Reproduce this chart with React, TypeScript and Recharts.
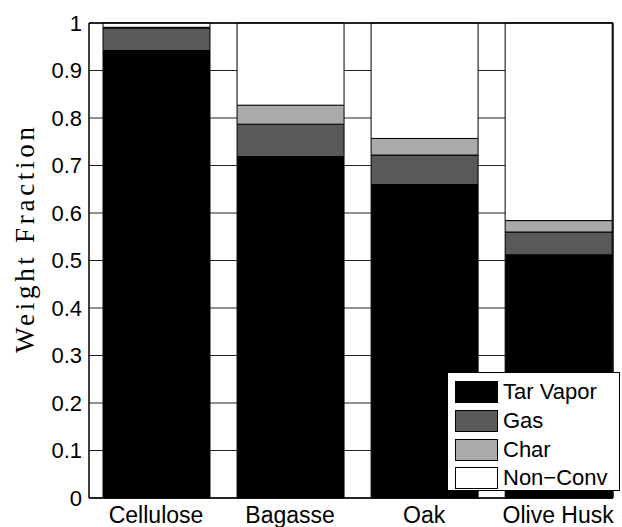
import React from 'react';
import {
  BarChart,
  Bar,
  XAxis,
  YAxis,
  CartesianGrid,
  ReferenceLine,
} from 'recharts';

// feedstocks along the x axis
const feedstocks = ['Cellulose', 'Bagasse', 'Oak', 'Olive Husk'];

// stacked weight fractions per feedstock
const tarVapor = [0.942, 0.719, 0.66, 0.512];
const gas = [0.047, 0.068, 0.062, 0.048];
const charFrac = [0.002, 0.04, 0.035, 0.024];
const nonConv = [0.009, 0.173, 0.243, 0.416];

const yTicks = [0, 0.1, 0.2, 0.3, 0.4, 0.5, 0.6, 0.7, 0.8, 0.9, 1];

const series = [
  { key: 'tar', name: 'Tar Vapor', fill: '#000000' },
  { key: 'gas', name: 'Gas', fill: '#595959' },
  { key: 'char', name: 'Char', fill: '#aaaaaa' },
  { key: 'nonconv', name: 'Non\u2212Conv', fill: '#ffffff' },
];

const chartData = feedstocks.map((name, i) => ({
  pos: i + 1,
  name,
  tar: tarVapor[i],
  gas: gas[i],
  char: charFrac[i],
  nonconv: nonConv[i],
}));

const FONT = '"Liberation Sans", Arial, Helvetica, sans-serif';
const X_MAX = 4.409;

// legend drawn as a plain box over the plot, like matlab's
function LegendBox() {
  return (
    <div
      style={{
        position: 'absolute',
        left: 447,
        top: 372,
        background: '#fff',
        border: '1px solid #000',
        width: 173,
        height: 119,
        boxSizing: 'border-box',
        padding: '5px 0 0 7px',
        fontFamily: FONT,
        fontSize: 22,
        color: '#000',
      }}
    >
      {series.map((s) => (
        <div key={s.key} style={{ display: 'flex', alignItems: 'center', height: 28.7 }}>
          <div
            style={{
              width: 43,
              height: 22,
              background: s.fill,
              border: '1px solid #000',
              boxSizing: 'border-box',
              marginRight: 5,
            }}
          />
          <span style={{ lineHeight: '22px' }}>{s.name}</span>
        </div>
      ))}
    </div>
  );
}

function YLabel() {
  return (
    <text
      x={0}
      y={0}
      transform="translate(34,240) rotate(-90)"
      textAnchor="middle"
      fontFamily='"Liberation Serif", "Times New Roman", serif'
      fontSize={27}
      fill="#000"
      textLength={226}
      lengthAdjust="spacing"
    >
      Weight Fraction
    </text>
  );
}

export default function App() {
  return (
    <div style={{ position: 'absolute', left: 0, top: 0, width: 622, height: 527, background: '#fff' }}>
      <BarChart
        width={622}
        height={527}
        data={chartData}
        margin={{ top: 23, right: 9, bottom: 0, left: 0 }}
        barGap={0}
      >
        <CartesianGrid vertical={false} stroke="#222" strokeWidth={1} />
        <XAxis
          dataKey="pos"
          type="number"
          domain={[0.5, X_MAX]}
          ticks={[1, 2, 3, 4]}
          tickFormatter={(v: number) => feedstocks[v - 1]}
          height={29}
          tickLine={false}
          tickSize={0}
          tickMargin={9}
          axisLine={{ stroke: '#000', strokeWidth: 1.5 }}
          tick={{ fill: '#000', fontFamily: FONT, fontSize: 23 }}
          interval={0}
        />
        <YAxis
          type="number"
          domain={[0, 1]}
          ticks={yTicks}
          tickFormatter={(v: number) => String(Math.round(v * 10) / 10)}
          width={89}
          tickLine={false}
          tickSize={0}
          tickMargin={7}
          axisLine={{ stroke: '#000', strokeWidth: 1.5 }}
          tick={{ fill: '#000', fontFamily: FONT, fontSize: 22 }}
          interval={0}
        />
        <ReferenceLine y={1} stroke="#000" strokeWidth={1.5} />
        <ReferenceLine x={X_MAX} stroke="#000" strokeWidth={1.5} />
        {series.map((s) => (
          <Bar
            key={s.key}
            dataKey={s.key}
            name={s.name}
            stackId="a"
            fill={s.fill}
            stroke="#000"
            strokeWidth={1}
            barSize={107}
            isAnimationActive={false}
          />
        ))}
        <YLabel />
      </BarChart>
      <LegendBox />
    </div>
  );
}
